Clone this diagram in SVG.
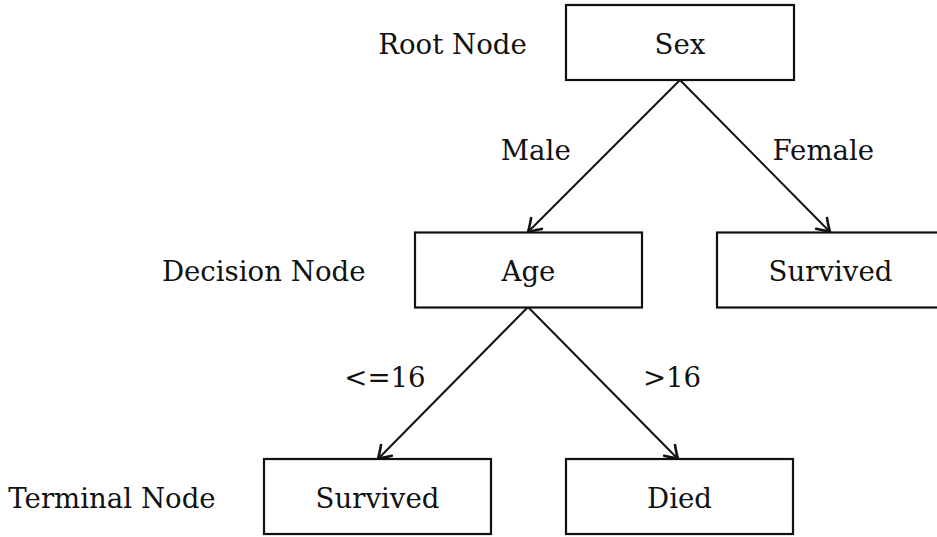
<svg xmlns="http://www.w3.org/2000/svg" width="937" height="537" viewBox="0 0 937 537">
<style>
text{font-family:"DejaVu Serif",serif;font-size:27.6px;fill:#111;text-anchor:middle}
.box{fill:#fff;stroke:#111;stroke-width:2.2}
.edge{stroke:#111;stroke-width:2;fill:none}
</style>
<defs>
<marker id="arr" markerUnits="userSpaceOnUse" markerWidth="24" markerHeight="24" viewBox="-13 -11 15 22" refX="0" refY="0" orient="auto">
<path d="M-11,-7 Q-3.5,-1.8 0,0 Q-3.5,1.8 -11,7" fill="none" stroke="#111" stroke-width="2.4" stroke-linecap="round"/>
</marker>
</defs>
<rect width="937" height="537" fill="#fff"/>
<g id="labels">
<text x="452.5" y="54">Root Node</text>
<text x="263.7" y="281">Decision Node</text>
<text x="112" y="508">Terminal Node</text>
</g>
<g id="connectors">
<line class="edge" x1="680" y1="80" x2="528" y2="232" marker-end="url(#arr)"/>
<line class="edge" x1="680" y1="80" x2="830" y2="232" marker-end="url(#arr)"/>
<line class="edge" x1="528" y1="307" x2="378" y2="459" marker-end="url(#arr)"/>
<line class="edge" x1="528" y1="307" x2="678" y2="459" marker-end="url(#arr)"/>
<text x="535.8" y="160">Male</text>
<text x="823.3" y="160">Female</text>
<text x="385" y="387">&lt;=16</text>
<text x="672" y="387">&gt;16</text>
</g>
<g id="sex">
<rect class="box" x="566" y="5" width="228" height="75"/>
<text x="680" y="54">Sex</text>
</g>
<g id="age">
<rect class="box" x="415" y="232.5" width="227" height="75"/>
<text x="528.5" y="281">Age</text>
</g>
<g id="survived-female">
<rect class="box" x="717" y="232.5" width="228" height="75"/>
<text x="830.5" y="281">Survived</text>
</g>
<g id="survived-young">
<rect class="box" x="264" y="459" width="227" height="75"/>
<text x="377.5" y="508">Survived</text>
</g>
<g id="died">
<rect class="box" x="566" y="459" width="227" height="75"/>
<text x="679.5" y="508">Died</text>
</g>
</svg>
